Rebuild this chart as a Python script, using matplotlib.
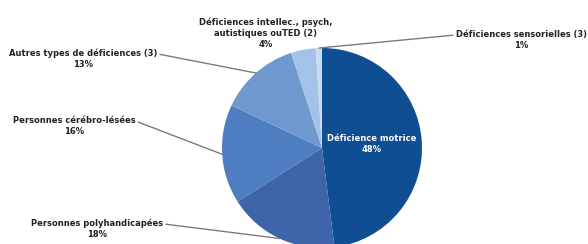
import matplotlib
matplotlib.use("Agg")
import matplotlib.pyplot as plt
import numpy as np

# Data
labels = ["Déficience motrice",
          "Personnes polyhandicapées",
          "Personnes cérébro-lésées",
          "Autres types de déficiences (3)",
          "Déficiences intellec., psych,\nautistiques ouTED (2)",
          "Déficiences sensorielles (3)"]
shares = [48, 18, 16, 13, 4, 1]
colors = ["#0F4E93", "#3E65AA", "#4E7EC1", "#6F98CF", "#A4C2E7", "#C9DBF1"]

W, H = 588, 244
fig = plt.figure(figsize=(W / 100, H / 100), dpi=100)
ax = fig.add_axes([0, 0, 1, 1])

cx, cy, r = 322, 96, 100
wedges, _ = ax.pie(shares, colors=colors, startangle=90, counterclock=False,
                   center=(cx, cy), radius=r, frame=True,
                   wedgeprops=dict(linewidth=0))
ax.set_xlim(0, W)
ax.set_ylim(0, H)
ax.set_aspect("equal")
ax.axis("off")

font = dict(fontsize=6, fontweight="bold", family="DejaVu Sans")

# label positions (text centre) and which side the leader leaves from
label_pos = [None, (97, 15), (74, 118), (83, 185), (266, 211), (521, 204)]
relpos = [None, (1, 0.75), (1, 0.75), (1, 0.75), None, (0, 0.75)]

for i, w in enumerate(wedges):
    txt = f"{labels[i]}\n{shares[i]}%"
    if i == 0:
        ax.text(372, 100, txt, ha="center", va="center", color="white",
                linespacing=1.3, **font)
        continue
    ang = np.deg2rad((w.theta1 + w.theta2) / 2)
    ex, ey = cx + r * np.cos(ang), cy + r * np.sin(ang)
    if relpos[i] is None:
        ax.text(*label_pos[i], txt, ha="center", va="center", color="#222222",
                linespacing=1.3, **font)
    else:
        ax.annotate(txt, xy=(ex, ey), xytext=label_pos[i], ha="center",
                    va="center", color="#222222", linespacing=1.3,
                    arrowprops=dict(arrowstyle="-", color="#7a7a7a", lw=1.0,
                                    shrinkA=0, shrinkB=0, relpos=relpos[i]),
                    **font)

fig.savefig("out.png", dpi=100)
